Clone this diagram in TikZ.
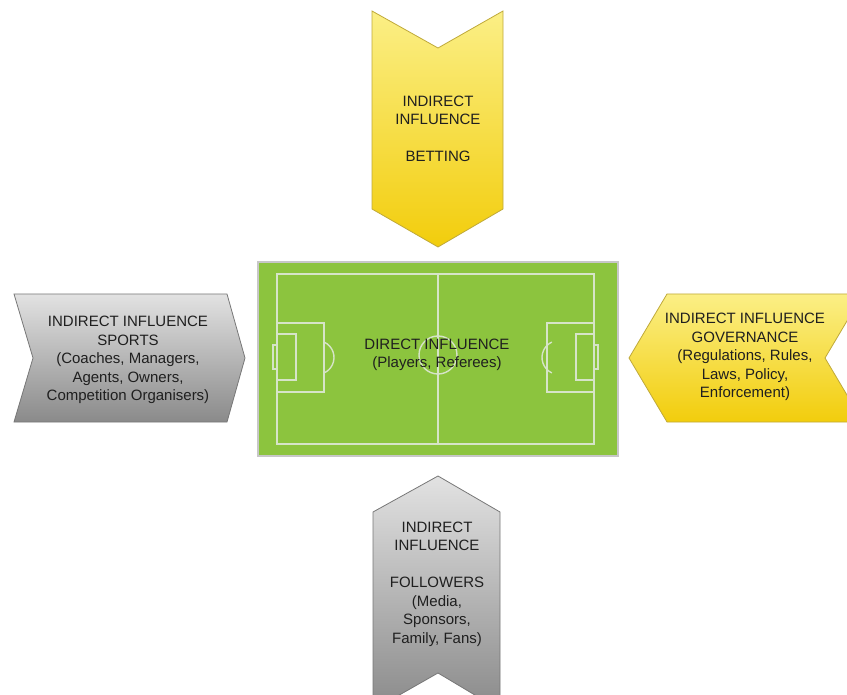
\documentclass[tikz,border=0pt]{standalone}
\usepackage{fontspec}
\setmainfont{Liberation Sans}
\definecolor{ytop}{HTML}{FBEF86}
\definecolor{ybot}{HTML}{F2CD0C}
\definecolor{yline}{HTML}{BFA93A}
\definecolor{gtop}{HTML}{E2E2E2}
\definecolor{gbot}{HTML}{8A8A8A}
\definecolor{gline}{HTML}{777777}
\definecolor{pitch}{HTML}{8CC43E}
\definecolor{chalk}{HTML}{D6E4C8}
\begin{document}
\begin{tikzpicture}[x=1pt,y=-1pt,line width=.8pt,
  lbl/.style={align=center,font=\fontsize{15}{18.5}\selectfont,text=black!88},
  yarrow/.style={draw=yline,top color=ytop,bottom color=ybot},
  garrow/.style={draw=gline,top color=gtop,bottom color=gbot},
  mark line/.style={draw=chalk,line width=1.4pt}]
\useasboundingbox (0,0) rectangle (847,695);
\clip (0,0) rectangle (847,695);
% pitch
\draw[fill=pitch,draw=black!22,line width=1.4pt] (258,262) rectangle (618,456);
\draw[mark line] (277,274) rectangle (594,444);
\draw[mark line] (438,274)--(438,444);
\draw[mark line] (438,355) circle[radius=19];
\draw[mark line] (277,323) rectangle (324,392);\draw[mark line] (277,334) rectangle (296,380);\draw[mark line] (273,345) rectangle (277,369);\draw[mark line] (317,357.5) ++(-65:17) arc[start angle=-65,end angle=65,radius=17];
\draw[mark line] (547,323) rectangle (594,392);\draw[mark line] (576,334) rectangle (594,380);\draw[mark line] (594,345) rectangle (598,369);\draw[mark line] (559,357.5) ++(115:17) arc[start angle=115,end angle=245,radius=17];
\node[lbl] (direct) at (437,355) {DIRECT INFLUENCE\\(Players, Referees)};
% betting
\draw[yarrow] (372,11)--(438,48)--(503,11)--(503,209)--(438,247)--(372,209)--cycle;
\node[lbl] (betting) at (438,129) {INDIRECT\\INFLUENCE\\[18.5pt]BETTING};
% sports
\draw[garrow] (14,294)--(227,294)--(245,358)--(227,422)--(14,422)--(33,358)--cycle;
\node[lbl] (sports) at (128,360) {INDIRECT INFLUENCE\\SPORTS\\(Coaches, Managers,\\Agents, Owners,\\Competition Organisers)};
% governance
\draw[yarrow] (629,358)--(667,294)--(863,294)--(825,358)--(863,422)--(667,422)--cycle;
\node[lbl] (governance) at (745,357) {INDIRECT INFLUENCE\\GOVERNANCE\\(Regulations, Rules,\\Laws, Policy,\\Enforcement)};
% followers
\draw[garrow] (438,476)--(500,512)--(500,710)--(438,673)--(373,710)--(373,512)--cycle;
\node[lbl] (followers) at (437,584) {INDIRECT\\INFLUENCE\\[18.5pt]FOLLOWERS\\(Media,\\Sponsors,\\Family, Fans)};
\end{tikzpicture}
\end{document}
